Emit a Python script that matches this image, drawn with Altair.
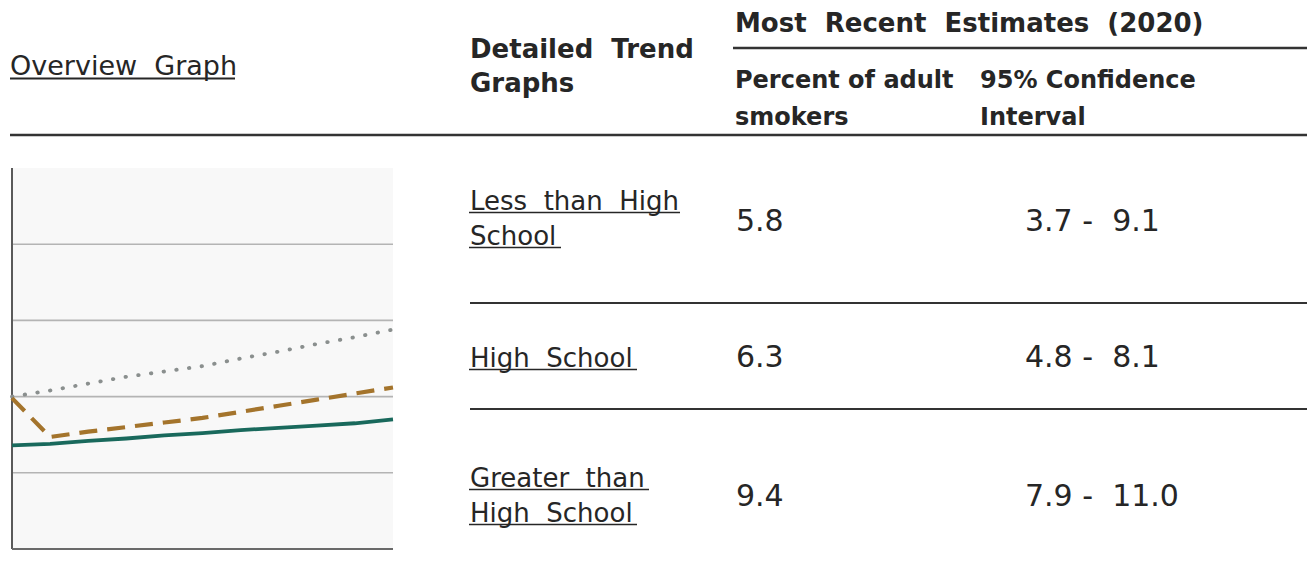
import altair as alt
import pandas as pd

# ---------------- data ----------------
years = [2010, 2011, 2012, 2013, 2014, 2015, 2016, 2017, 2018, 2019, 2020]
greater_hs_trend = [10.0, 10.4, 10.85, 11.3, 11.65, 12.0, 12.5, 12.95, 13.45, 13.9, 14.4]
high_school_trend = [9.9, 7.35, 7.7, 8.0, 8.3, 8.6, 9.0, 9.4, 9.8, 10.2, 10.6]
less_hs_trend = [6.8, 6.9, 7.1, 7.25, 7.45, 7.6, 7.8, 7.95, 8.1, 8.25, 8.5]
grid_values = [5, 10, 15, 20]
y_domain = [0, 25]

categories = ["Less than High School", "High School", "Greater than High School"]
link_lines = [["Less than High", "School"], ["High School"], ["Greater than", "High School"]]
percent = [5.8, 6.3, 9.4]
ci_low = [3.7, 4.8, 7.9]
ci_high = [9.1, 8.1, 11.0]

title_overview = "Overview Graph"
title_trend = ["Detailed Trend", "Graphs"]
title_recent = "Most Recent Estimates (2020)"
title_percent = ["Percent of adult", "smokers"]
title_ci = ["95% Confidence", "Interval"]

# ---------------- helpers ----------------
NB = "\u00a0\u00a0"
FONT = "DejaVu Sans"
INK = "#262626"
RULE = "#333333"


def spaced(s):
    return s.replace(" ", NB)


def text_layer(txt, x, y, size, bold=False, line_height=None):
    df = pd.DataFrame({"t": ["\n".join(txt) if isinstance(txt, list) else txt]})
    kw = dict(align="left", baseline="alphabetic", font=FONT, fontSize=size,
              color=INK, fontWeight="bold" if bold else "normal", lineBreak="\n")
    if line_height is not None:
        kw["lineHeight"] = line_height
    return alt.Chart(df).mark_text(**kw).encode(
        text="t:N", x=alt.value(x), y=alt.value(y))


def hrule(x1, x2, y, width=2, color=RULE):
    return alt.Chart(pd.DataFrame({"k": [0]})).mark_rule(
        color=color, strokeWidth=width).encode(
        x=alt.value(x1), x2=alt.value(x2), y=alt.value(y))


# ---------------- trend thumbnail ----------------
xs = alt.Scale(domain=[years[0], years[-1]], range=[4, 385], nice=False, zero=False)
ys = alt.Scale(domain=y_domain, range=[541, 160], nice=False, zero=False)
base_row = pd.DataFrame({"k": [0]})

bg = alt.Chart(base_row).mark_rect(color="#f8f8f8").encode(
    x=alt.X(datum=years[0], type="quantitative", scale=xs, axis=None),
    x2=alt.X2(datum=years[-1]),
    y=alt.Y(datum=y_domain[0], type="quantitative", scale=ys, axis=None),
    y2=alt.Y2(datum=y_domain[1]),
)

grid = alt.Chart(pd.DataFrame({"v": grid_values})).mark_rule(
    color="#b4b4b4", strokeWidth=1.6).encode(
    y=alt.Y("v:Q", scale=ys, axis=None),
    x=alt.X(datum=years[0], type="quantitative", scale=xs, axis=None),
    x2=alt.X2(datum=years[-1]),
)

left_axis = alt.Chart(base_row).mark_rule(color="#5a5a5a", strokeWidth=2).encode(
    x=alt.X(datum=years[0], type="quantitative", scale=xs, axis=None),
    y=alt.Y(datum=y_domain[0], type="quantitative", scale=ys, axis=None),
    y2=alt.Y2(datum=y_domain[1]),
)
bottom_axis = alt.Chart(base_row).mark_rule(color="#6a6a6a", strokeWidth=2).encode(
    y=alt.Y(datum=y_domain[0], type="quantitative", scale=ys, axis=None),
    x=alt.X(datum=years[0], type="quantitative", scale=xs, axis=None),
    x2=alt.X2(datum=years[-1]),
)


def trend(values, **style):
    df = pd.DataFrame({"year": years, "value": values})
    return alt.Chart(df).mark_line(**style).encode(
        x=alt.X("year:Q", scale=xs, axis=None),
        y=alt.Y("value:Q", scale=ys, axis=None),
    )


line_dotted = trend(greater_hs_trend, color="#8a8f8e", strokeWidth=3.8,
                    strokeDash=[0.5, 12.3], strokeCap="round")
line_dashed = trend(high_school_trend, color="#a4742c", strokeWidth=4.2,
                    strokeDash=[18, 10])
line_solid = trend(less_hs_trend, color="#19695c", strokeWidth=3.8)

# ---------------- table text ----------------
layers = [bg, grid, left_axis, bottom_axis, line_dotted, line_dashed, line_solid]

layers += [
    text_layer(spaced(title_overview), 2, 67, 27),
    hrule(2, 227, 70.5, 2, INK),
    hrule(2, 1299, 127, 2.5),
    text_layer([spaced(s) for s in title_trend], 462, 50, 26, bold=True, line_height=34),
    text_layer(spaced(title_recent), 727, 24, 26, bold=True),
    hrule(725, 1299, 40, 2.5),
    text_layer(title_percent, 727, 80, 24, bold=True, line_height=37),
    text_layer(title_ci, 972, 80, 24, bold=True, line_height=37),
]

link_base = [202, 359, 479]
value_base = [223, 359, 498]
underline_spans = [[(461, 672), (461, 553)], [(461, 629)], [(461, 641), (461, 629)]]
line_h = 35
for i, cat in enumerate(categories):
    lines = [spaced(s) for s in link_lines[i]]
    layers.append(text_layer(lines, 462, link_base[i], 26, line_height=line_h))
    for j, (a, b) in enumerate(underline_spans[i]):
        layers.append(hrule(a, b, link_base[i] + 2.5 + j * line_h, 1.6, INK))
    layers.append(text_layer(f"{percent[i]:.1f}", 728, value_base[i], 30))
    layers.append(text_layer(f"{ci_low[i]:.1f}\u00a0-\u00a0\u00a0{ci_high[i]:.1f}",
                             1017, value_base[i], 30))

layers += [hrule(462, 1299, 295, 2), hrule(462, 1299, 401, 2)]

chart = alt.layer(*layers).properties(
    width=1299, height=563, padding=0,
    autosize=alt.AutoSizeParams(type="none"),
    background="white",
).configure_view(stroke=None)

chart.save("out.html", embed_options={"renderer": "svg", "actions": False})
